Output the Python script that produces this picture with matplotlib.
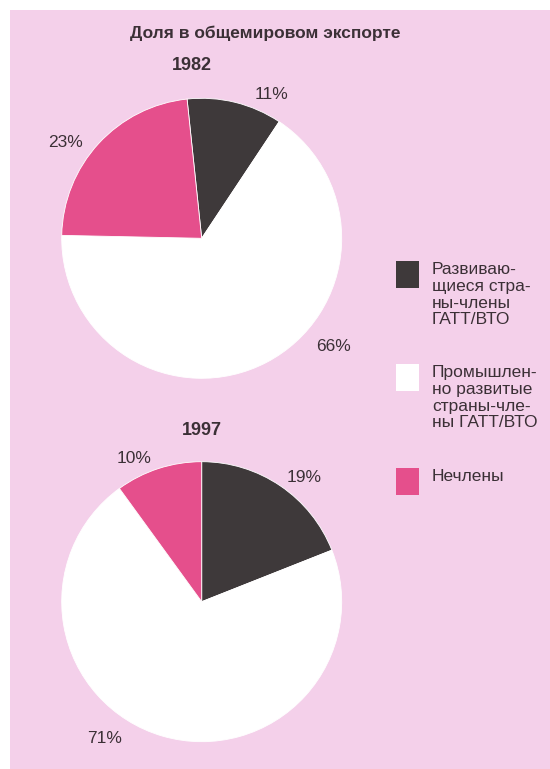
import numpy as np
import matplotlib.pyplot as plt
from matplotlib.patches import Rectangle

plt.rcParams['font.family'] = ['Liberation Sans', 'DejaVu Sans']

title = 'Доля в общемировом экспорте'
years = ['1982', '1997']
legend_labels = ['Развиваю-\nщиеся стра-\nны-члены\nГАТТ/ВТО',
                 'Промышлен-\nно развитые\nстраны-чле-\nны ГАТТ/ВТО',
                 'Нечлены']
shares_1982 = [11, 66, 23]
shares_1997 = [19, 71, 10]

colors = ['#3e393a', '#ffffff', '#e54f8c']
bg = '#f4d0ea'
txt = '#3b3036'

W, H = 550, 769
fig = plt.figure(figsize=(W / 100, H / 100), dpi=100)
fig.patch.set_facecolor(bg)
# white paper margins on the top and the left
fig.add_artist(Rectangle((0, (H - 10) / H), 1, 10 / H, transform=fig.transFigure,
                         facecolor='white', edgecolor='none', zorder=-10))
fig.add_artist(Rectangle((0, 0), 10 / W, 1, transform=fig.transFigure,
                         facecolor='white', edgecolor='none', zorder=-10))


def px_axes(cx, cy, r, span=1.3):
    return fig.add_axes([(cx - r * span) / W, (H - cy - r * span) / H,
                         2 * r * span / W, 2 * r * span / H])


# label placement (angle in degrees, distance in radii), per wedge
label_pos_1982 = [(64, 1.14), (-39.5, 1.22), (144.7, 1.19)]
label_pos_1997 = [(50.4, 1.15), (-125.5, 1.2), (115.5, 1.13)]

pies = [
    (shares_1982, 96, (201.7, 238.3), label_pos_1982),
    (shares_1997, 90, (201.7, 601.7), label_pos_1997),
]

for values, start, (cx, cy), lpos in pies:
    ax = px_axes(cx, cy, 140)
    ax.pie(values, colors=colors, startangle=start, counterclock=False, radius=1,
           wedgeprops=dict(edgecolor='white', linewidth=0.6))
    ax.set_xlim(-1.3, 1.3)
    ax.set_ylim(-1.3, 1.3)
    ax.axis('off')
    for v, (a, d) in zip(values, lpos):
        ax.text(d * np.cos(np.radians(a)), d * np.sin(np.radians(a)), f'{v}%',
                ha='center', va='center', fontsize=12.5, color=txt)

fig.text(265 / W, 1 - 33 / H, title, ha='center', va='center', fontsize=12.5,
         fontweight='bold', color=txt)
fig.text(192 / W, 1 - 65 / H, years[0], ha='center', va='center', fontsize=13,
         fontweight='bold', color=txt)
fig.text(202 / W, 1 - 430 / H, years[1], ha='center', va='center', fontsize=13,
         fontweight='bold', color=txt)

# legend
legend_tops = [261, 364, 468]
for lab, c, top in zip(legend_labels, colors, legend_tops):
    fig.add_artist(Rectangle((396 / W, 1 - (top + 27) / H), 23 / W, 27 / H,
                             transform=fig.transFigure, facecolor=c, edgecolor='none'))
    fig.text(432 / W, 1 - (top + 1) / H, lab, ha='left', va='top', fontsize=12.5,
             color=txt, linespacing=1.15)

fig.savefig('out.png', dpi=100, facecolor=bg)
